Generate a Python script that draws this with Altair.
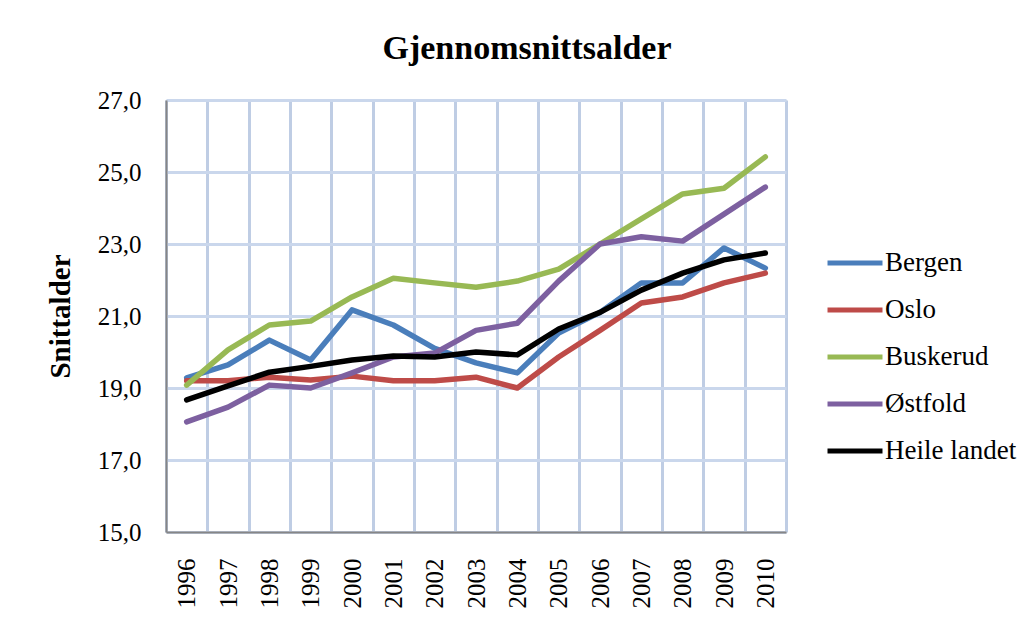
import altair as alt
import pandas as pd

years = list(range(1996, 2011))
bergen = [19.28, 19.64, 20.33, 19.78, 21.17, 20.75, 20.10, 19.70, 19.42, 20.53, 21.10, 21.92, 21.92, 22.89, 22.33]
oslo = [19.20, 19.20, 19.30, 19.22, 19.33, 19.20, 19.20, 19.30, 19.00, 19.86, 20.60, 21.36, 21.53, 21.92, 22.19]
buskerud = [19.08, 20.06, 20.75, 20.86, 21.53, 22.05, 21.92, 21.80, 21.97, 22.30, 23.00, 23.70, 24.39, 24.55, 25.42]
ostfold = [18.06, 18.47, 19.08, 19.00, 19.42, 19.86, 19.97, 20.60, 20.80, 21.97, 23.00, 23.20, 23.08, 23.83, 24.58]
heile = [18.67, 19.06, 19.44, 19.60, 19.78, 19.89, 19.86, 20.00, 19.92, 20.64, 21.10, 21.72, 22.19, 22.56, 22.75]

series_names = ["Bergen", "Oslo", "Buskerud", "Østfold", "Heile landet"]
series_values = [bergen, oslo, buskerud, ostfold, heile]
series_colors = ["#4A7EBB", "#BE4B48", "#98B954", "#7D60A0", "#000000"]
y_ticks = [15, 17, 19, 21, 23, 25, 27]
x_bounds = [y + 0.5 for y in range(1995, 2011)]

rows = []
for name, vals in zip(series_names, series_values):
    for yr, v in zip(years, vals):
        rows.append({"År": yr, "Snittalder": v, "Serie": name})
df = pd.DataFrame(rows)

FONT = "Liberation Serif"
xscale = alt.Scale(domain=[1995.5, 2010.5], nice=False, zero=False)

lines = alt.Chart(df).mark_line(strokeWidth=5.5, strokeCap="round", strokeJoin="round").encode(
    x=alt.X("År:Q", scale=xscale,
            axis=alt.Axis(values=years, format="d", labelAngle=-90, labelAlign="right",
                          labelBaseline="middle", grid=False, ticks=False, domain=True,
                          domainColor="#868686", domainWidth=2, labelPadding=26,
                          labelFontSize=25, labelFont=FONT, labelColor="#000000",
                          title=None, orient="bottom", zindex=1)),
    y=alt.Y("Snittalder:Q", scale=alt.Scale(domain=[15, 27], nice=False, zero=False),
            axis=alt.Axis(values=y_ticks, labelExpr="replace(format(datum.value, '.1f'), '.', ',')",
                          grid=True, gridColor="#CAD7EC", gridWidth=3, ticks=False,
                          domain=True, domainColor="#868686", domainWidth=2,
                          labelPadding=25, labelFontSize=25, labelFont=FONT,
                          labelColor="#000000", title="Snittalder", titleFont=FONT,
                          titleFontSize=29, titleFontWeight="bold", titleColor="#000000",
                          titlePadding=22, zindex=0)),
    color=alt.Color("Serie:N", sort=series_names,
                    scale=alt.Scale(domain=series_names, range=series_colors),
                    legend=alt.Legend(title=None, orient="none", legendX=663, legendY=137,
                                      symbolType="M-1.17,0L1.17,0", symbolSize=2209,
                                      symbolStrokeWidth=5, labelOffset=4, rowPadding=8,
                                      padding=0, labelFont=FONT, labelFontSize=27,
                                      labelColor="#000000", labelLimit=300)),
)

gridlayer = alt.Chart(pd.DataFrame({"År": x_bounds})).mark_point(opacity=0).encode(
    x=alt.X("År:Q", scale=xscale,
            axis=alt.Axis(values=x_bounds, grid=True, gridColor="#BFCDE4", gridWidth=3,
                          labels=False, ticks=False, domain=False, title=None,
                          orient="bottom", zindex=0)),
)

chart = alt.layer(gridlayer, lines).resolve_axis(x="independent").properties(
    width=620, height=432,
    autosize=alt.AutoSizeParams(type="none"),
    padding={"left": 158, "top": 92, "right": 241, "bottom": 91},
    title=alt.TitleParams("Gjennomsnittsalder", font=FONT, fontSize=34, fontWeight="bold",
                          color="#000000", anchor="middle", frame="group", dx=51, dy=42,
                          baseline="alphabetic", offset=37),
).configure_view(stroke=None).configure(background="white")

chart.save("out.html", embed_options={"renderer": "svg", "actions": False})
